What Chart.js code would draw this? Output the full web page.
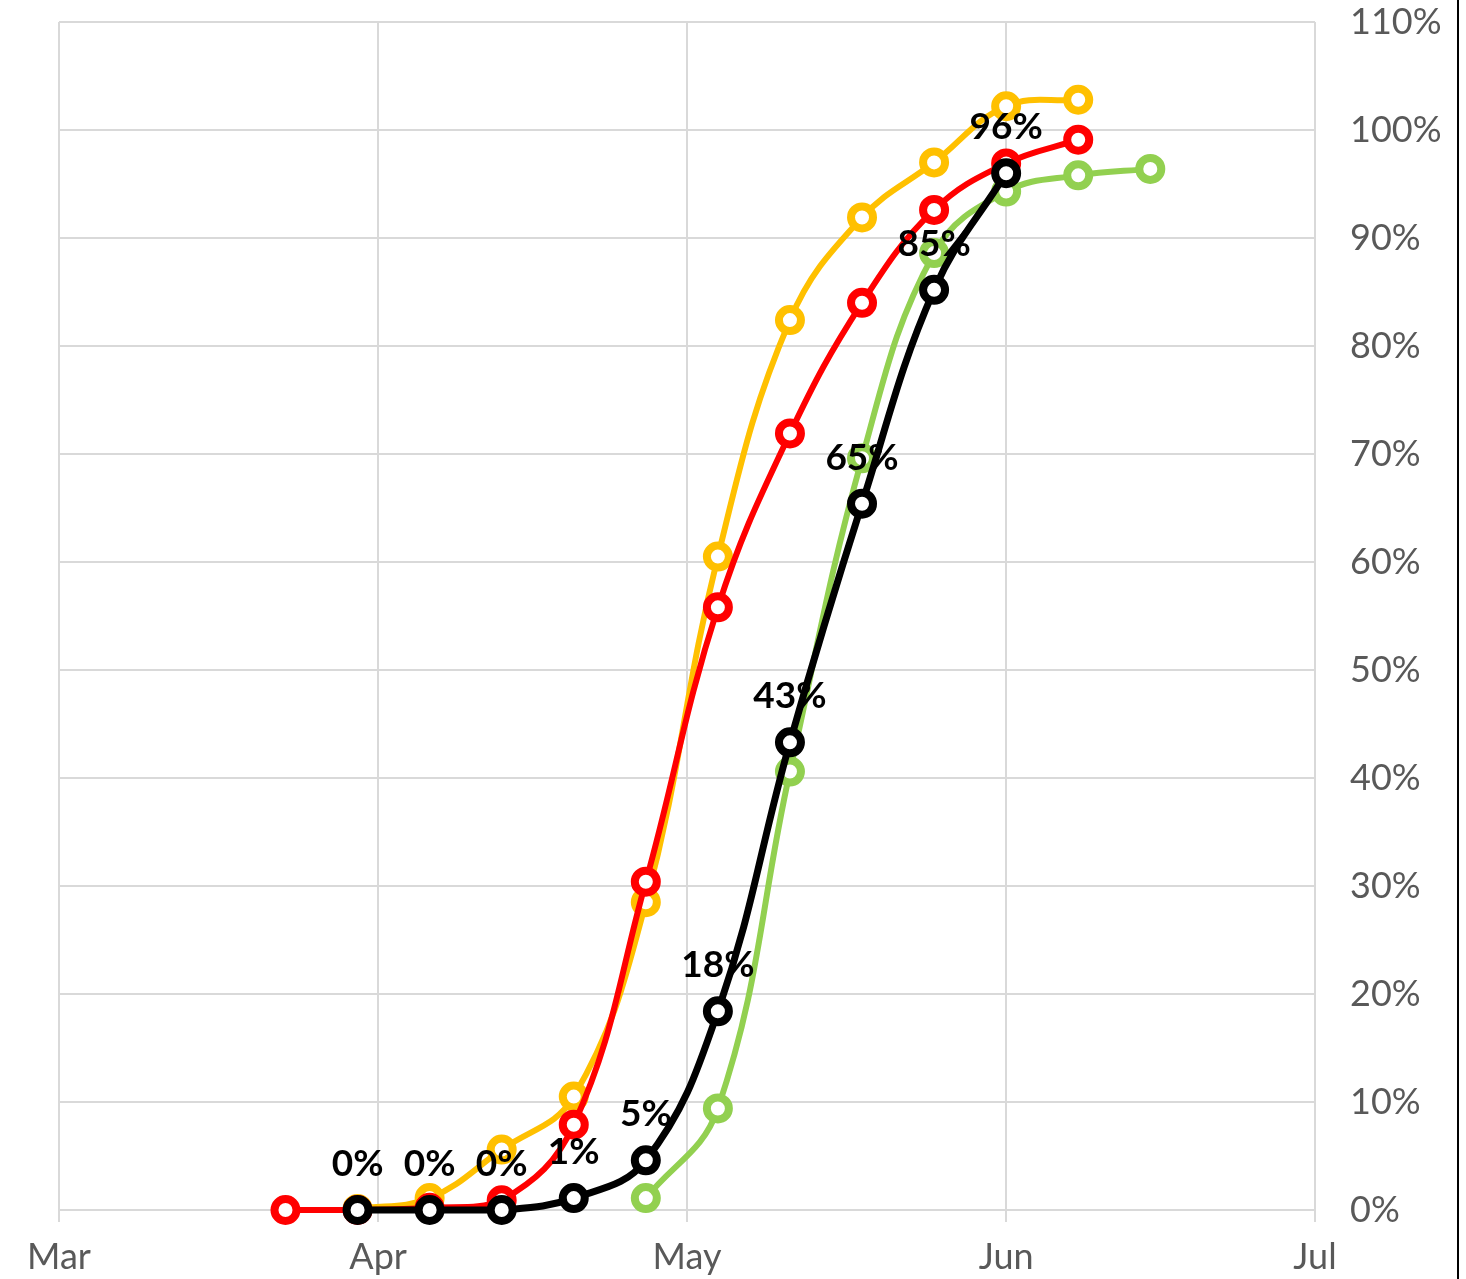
<!DOCTYPE html>
<html>
<head>
<meta charset="utf-8">
<title>Weekly progress</title>
<script src="https://cdn.jsdelivr.net/npm/chart.js@4/dist/chart.umd.min.js"></script>
<style>
  html, body { margin: 0; padding: 0; background: #ffffff; }
  #wrap { position: relative; width: 1466px; height: 1279px; }
</style>
</head>
<body>
<div id="wrap"><canvas id="progressChart"></canvas></div>
<script>
// ─── Data ───

// x values are days counted from 1 March
var monthStarts = [0, 31, 61, 92, 122];
var monthLabels = ["Mar", "Apr", "May", "Jun", "Jul"];

var weekDays = [22, 29, 36, 43, 50, 57, 64, 71, 78, 85, 92, 99, 106];

var blackValues  = [null, 0, 0, 0, 1.1, 4.6, 18.4, 43.3, 65.4, 85.2, 96.0, null, null];
var redValues    = [0, 0, 0.2, 0.9, 7.9, 30.4, 55.8, 71.9, 84.0, 92.6, 96.9, 99.1, null];
var greenValues  = [null, null, null, null, null, 1.1, 9.4, 40.6, 69.6, 88.6, 94.3, 95.8, 96.4];
var yellowValues = [null, 0.1, 1.1, 5.6, 10.5, 28.5, 60.5, 82.4, 91.9, 97.0, 102.2, 102.8, null];

var yTicks = [0, 10, 20, 30, 40, 50, 60, 70, 80, 90, 100, 110];

// ─── Helpers ───

function toPoints(values) {
  return weekDays.map(function (d, i) {
    return { x: d, y: values[i] };
  });
}

function seriesStyle(color, lineWidth) {
  return {
    borderColor: color,
    backgroundColor: color,
    borderWidth: lineWidth,
    pointRadius: 11,
    pointHoverRadius: 11,
    pointBorderWidth: 8,
    pointBorderColor: color,
    pointBackgroundColor: "#ffffff",
    tension: 0.4,
    fill: false,
    clip: false,
    spanGaps: false,
  };
}

// Percent labels above the black series
var valueLabels = {
  id: "valueLabels",
  afterDatasetsDraw: function (chart) {
    var meta = chart.getDatasetMeta(0);
    var ctx = chart.ctx;
    ctx.save();
    ctx.font = "bold 37px Lato";
    ctx.fillStyle = "#000000";
    ctx.textAlign = "center";
    ctx.textBaseline = "middle";
    meta.data.forEach(function (pt, i) {
      var v = blackValues[i];
      if (v === null) return;
      ctx.fillText(Math.round(v) + "%", pt.x, pt.y - 46);
    });
    ctx.restore();
  },
};

// Thin frame line near the right edge
var edgeLine = {
  id: "edgeLine",
  afterDraw: function (chart) {
    var ctx = chart.ctx;
    ctx.save();
    ctx.fillStyle = "#000000";
    ctx.fillRect(chart.width - 9, 0, 2, chart.height);
    ctx.restore();
  },
};

// ─── Chart ───

Chart.defaults.font.family = "Lato";
Chart.defaults.color = "#595959";

var gridColor = "#d9d9d9";

new Chart(document.getElementById("progressChart"), {
  type: "line",
  data: {
    datasets: [
      Object.assign({ label: "Black", data: toPoints(blackValues) }, seriesStyle("#000000", 7)),
      Object.assign({ label: "Red", data: toPoints(redValues) }, seriesStyle("#ff0000", 6)),
      Object.assign({ label: "Green", data: toPoints(greenValues) }, seriesStyle("#92d050", 6)),
      Object.assign({ label: "Yellow", data: toPoints(yellowValues) }, seriesStyle("#ffc000", 6)),
    ],
  },
  plugins: [valueLabels, edgeLine],
  options: {
    responsive: true,
    maintainAspectRatio: false,
    animation: false,
    layout: { padding: { left: 59, top: 22, right: 0, bottom: 0 } },
    plugins: {
      legend: { display: false },
      tooltip: { enabled: false },
    },
    scales: {
      x: {
        type: "linear",
        min: 0,
        max: 122,
        afterBuildTicks: function (scale) {
          scale.ticks = monthStarts.map(function (v) { return { value: v }; });
        },
        afterFit: function (scale) { scale.height = 69; },
        grid: { color: gridColor, lineWidth: 2, tickLength: 12, drawTicks: true },
        border: { display: false },
        ticks: {
          font: { size: 36 },
          padding: 14,
          maxRotation: 0,
          autoSkip: false,
          callback: function (value) {
            var idx = monthStarts.indexOf(value);
            return idx >= 0 ? monthLabels[idx] : "";
          },
        },
      },
      y: {
        position: "right",
        min: 0,
        max: 110,
        afterBuildTicks: function (scale) {
          scale.ticks = yTicks.map(function (v) { return { value: v }; });
        },
        afterFit: function (scale) {
          scale.width = 151;
          scale.paddingTop = 0;
          scale.paddingBottom = 0;
        },
        grid: { color: gridColor, lineWidth: 2, drawTicks: false },
        border: { display: false },
        ticks: {
          font: { size: 36 },
          padding: 35,
          callback: function (value) { return value + "%"; },
        },
      },
    },
  },
});
</script>
</body>
</html>
